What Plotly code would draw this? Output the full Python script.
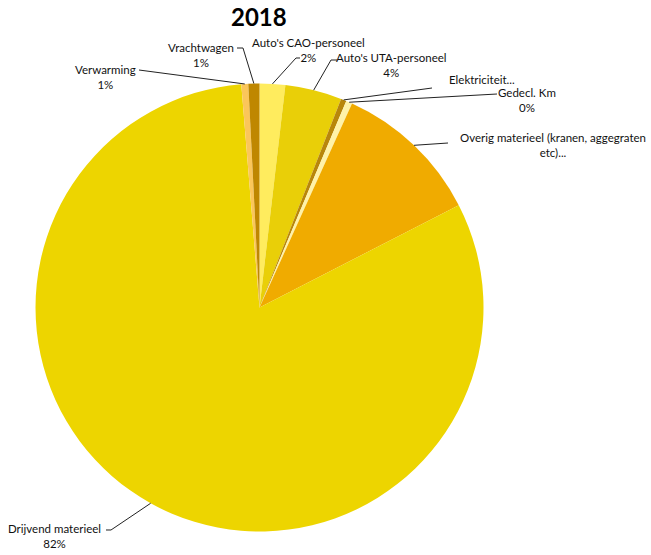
import math
import plotly.graph_objects as go

# ---- data ----
categories = ["Auto's CAO-personeel", "Auto's UTA-personeel", "Elektriciteit...", "Gedecl. Km",
              "Overig materieel (kranen, aggegraten etc)...", "Drijvend materieel",
              "Verwarming", "Vrachtwagen"]
values = [1.85, 4.1, 0.4, 0.45, 10.7, 81.5, 0.5, 0.8]
pct_labels = ["2%", "4%", "", "0%", "", "82%", "1%", "1%"]
colors = ["#FFEC5E", "#E9CF08", "#B8860B", "#FFF2A8", "#F0AB00", "#EDD500", "#FBC65A", "#BF8700"]
title_text = "2018"

W, H = 651, 555
CX, CY, R = 259.5, 307.5, 224


def px(x, y):
    return x / W, 1 - y / H


# label layout (pixel positions of label block centers and leader-line start points)
label_text = [
    "Auto's CAO-personeel<br>2%",
    "Auto's UTA-personeel<br>4%",
    "Elektriciteit...",
    "Gedecl. Km<br>0%",
    "Overig materieel (kranen, aggegraten<br>etc)...",
    "Drijvend materieel<br>82%",
    "Verwarming<br>1%",
    "Vrachtwagen<br>1%",
]
label_pos = [(308, 50), (391, 65), (482, 80), (527, 100), (553, 145), (54, 536), (105, 77), (201, 55)]
line_start = [[(300, 58), (296, 58)], [(337, 60), (331, 60)], [(432, 88)], [(497, 94)],
              [(448, 143)], [(106, 530), (111, 530)], [(139, 70)], [(237, 48), (243, 48)]]

fig = go.Figure(go.Pie(
    labels=categories, values=values, sort=False, direction="clockwise", rotation=0,
    marker=dict(colors=colors, line=dict(width=0)),
    textinfo="none", showlegend=False, hole=0,
    domain=dict(x=[(CX - R) / W, (CX + R) / W], y=[1 - (CY + R) / H, 1 - (CY - R) / H]),
))

total = sum(values)
cum = 0
shapes = []
annotations = []
for i, v in enumerate(values):
    mid = (cum + v / 2) / total * 2 * math.pi
    cum += v
    ax, ay = CX + R * math.sin(mid), CY - R * math.cos(mid)
    pts = line_start[i] + [(ax, ay)]
    path = "M " + " L ".join(f"{px(x, y)[0]:.5f},{px(x, y)[1]:.5f}" for x, y in pts)
    shapes.append(dict(type="path", xref="paper", yref="paper", path=path,
                       line=dict(color="#222222", width=1)))
    lx, ly = px(*label_pos[i])
    annotations.append(dict(text=label_text[i], x=lx, y=ly, xref="paper", yref="paper",
                            xanchor="center", yanchor="middle", showarrow=False, align="center",
                            font=dict(family="Lato", size=11.5, color="#111111")))

tx, ty = px(259, 16)
annotations.append(dict(text=f"<b>{title_text}</b>", x=tx, y=ty, xref="paper", yref="paper",
                        xanchor="center", yanchor="middle", showarrow=False,
                        font=dict(family="Lato", size=24, color="#000000")))

fig.update_layout(width=W, height=H, margin=dict(l=0, r=0, t=0, b=0),
                  paper_bgcolor="white", plot_bgcolor="white",
                  shapes=shapes, annotations=annotations)

fig.write_html("out.html")
